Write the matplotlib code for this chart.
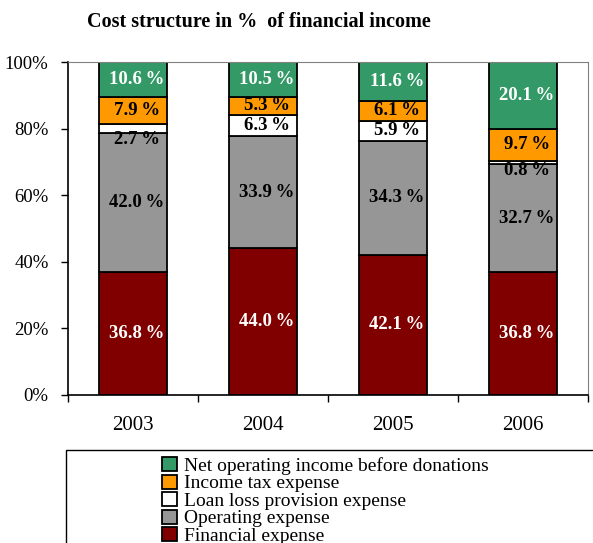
import numpy as np
import matplotlib.pyplot as plt
from matplotlib.patches import Rectangle
from matplotlib.ticker import PercentFormatter

plt.rcParams['font.family'] = ['Liberation Serif', 'DejaVu Serif']

years = ['2003', '2004', '2005', '2006']
financial = [36.8, 44.0, 42.1, 36.8]
operating = [42.0, 33.9, 34.3, 32.7]
loan_loss = [2.7, 6.3, 5.9, 0.8]
income_tax = [7.9, 5.3, 6.1, 9.7]
net_income = [10.6, 10.5, 11.6, 20.1]

series = [
    ('Financial expense', financial, '#800000', 'white'),
    ('Operating expense', operating, '#969696', 'black'),
    ('Loan loss provision expense', loan_loss, 'white', 'black'),
    ('Income tax expense', income_tax, '#FF9900', 'black'),
    ('Net operating income before donations', net_income, '#339966', 'white'),
]

fig = plt.figure(figsize=(5.93, 5.43), dpi=100)
ax = fig.add_axes([0.1147, 0.2726, 0.8769, 0.6132])

x = np.arange(len(years))
bottom = np.zeros(len(years))
handles = []
for name, vals, color, tcolor in series:
    vals = np.array(vals)
    b = ax.bar(x, vals, 0.52, bottom=bottom, color=color, edgecolor='black',
               linewidth=1.3, label=name)
    handles.append(b)
    for xi, v, b0 in zip(x, vals, bottom):
        label = f'{v:.1f}\u2009%'
        if v < 4:
            # thin slices: put the label just under the slice
            ax.text(xi + 0.03, b0 + 0.6, label, ha='center', va='top',
                    color=tcolor, fontsize=13.5, fontweight='bold')
        else:
            ax.text(xi + 0.03, b0 + v / 2, label, ha='center', va='center',
                    color=tcolor, fontsize=13.5, fontweight='bold')
    bottom += vals

ax.set_xlim(-0.5, 3.5)
ax.set_ylim(0, 100)
ax.set_yticks(np.arange(0, 101, 20))
ax.yaxis.set_major_formatter(PercentFormatter(decimals=0))
ax.set_xticks(x)
ax.set_xticklabels(years)
ax.set_xticks(np.arange(-0.5, 4, 1), minor=True)
ax.tick_params(axis='x', which='major', length=0, pad=15, labelsize=15)
ax.tick_params(axis='x', which='minor', length=5, direction='out', width=1)
ax.tick_params(axis='y', length=5, direction='out', width=1, labelsize=13.5,
               pad=9)
for side in ['top', 'right']:
    ax.spines[side].set_color('#808080')
for side in ['left', 'bottom']:
    ax.spines[side].set_linewidth(1.2)

fig.suptitle('Cost structure in %  of financial income', fontsize=14.5,
             fontweight='bold', x=0.437, y=0.978)

# legend frame runs off the figure edge
fig.patches.append(Rectangle((66 / 593, -0.05), 0.95, 93 / 543 + 0.05,
                             transform=fig.transFigure, fill=False,
                             edgecolor='black', linewidth=1))
leg = fig.legend(handles[::-1], [s[0] for s in series[::-1]],
                 loc='upper left', bbox_to_anchor=(162 / 593, 1 - 457 / 543),
                 frameon=False, fontsize=14, labelspacing=-0.02,
                 handlelength=0.75, handleheight=0.75, handletextpad=0.4,
                 borderpad=0, borderaxespad=0)

fig.savefig('out.png', dpi=100)
